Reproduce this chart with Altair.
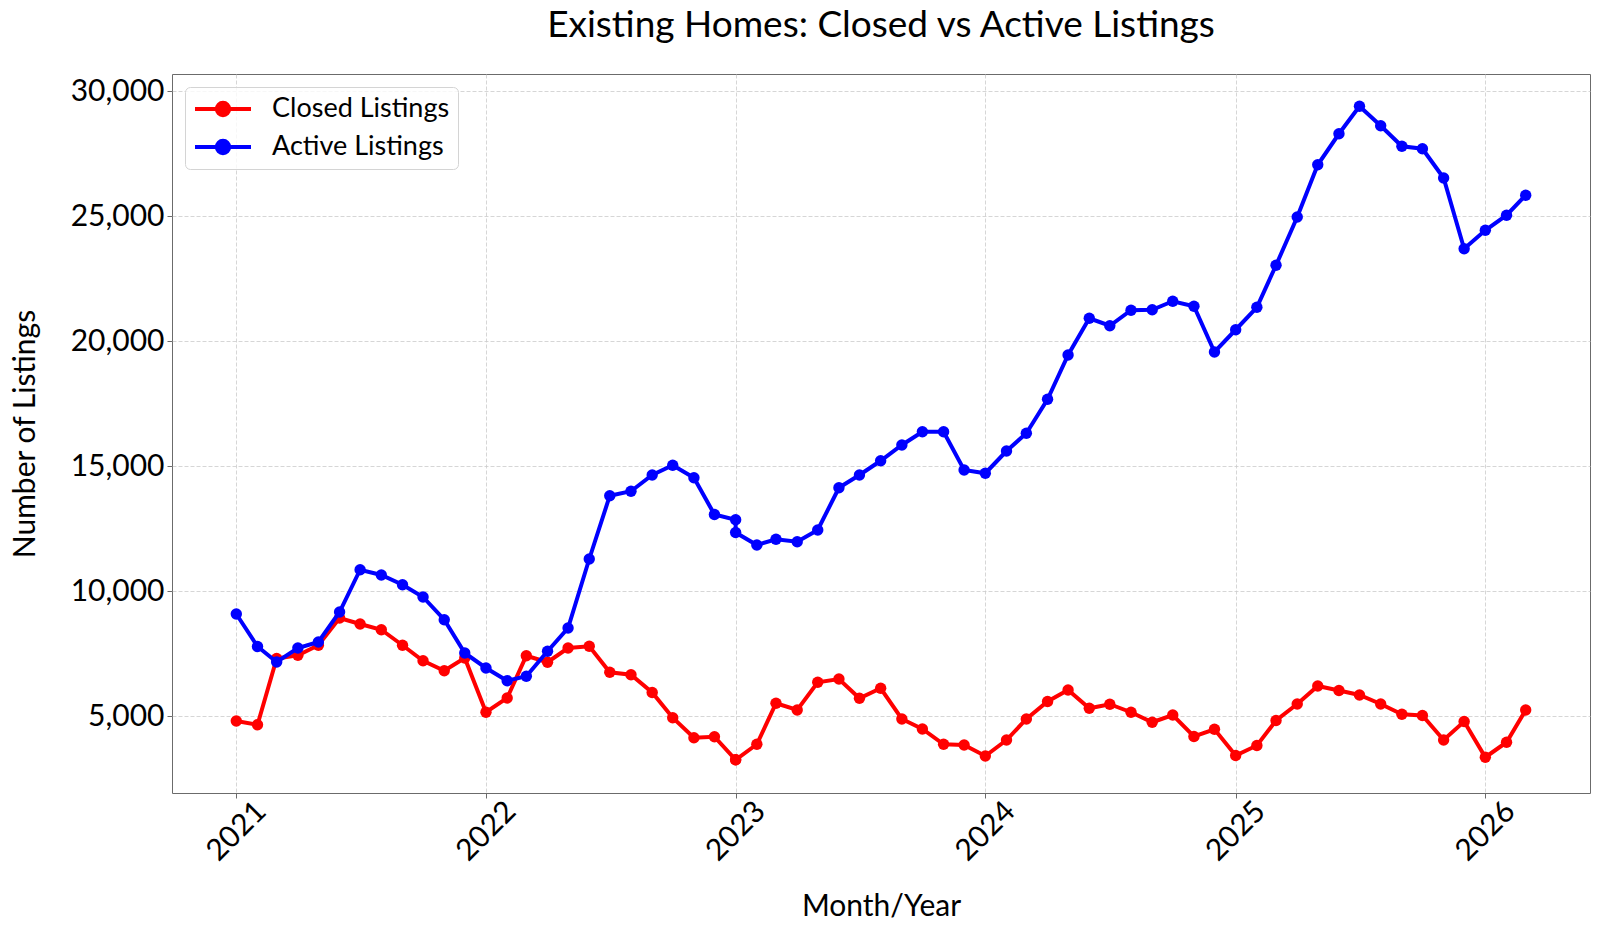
import altair as alt
import pandas as pd

# Monthly observations (January 2023 was reported twice)
months = [
    "2021-01-01", "2021-02-01", "2021-03-01", "2021-04-01", "2021-05-01", "2021-06-01",
    "2021-07-01", "2021-08-01", "2021-09-01", "2021-10-01", "2021-11-01", "2021-12-01",
    "2022-01-01", "2022-02-01", "2022-03-01", "2022-04-01", "2022-05-01", "2022-06-01",
    "2022-07-01", "2022-08-01", "2022-09-01", "2022-10-01", "2022-11-01", "2022-12-01",
    "2023-01-01", "2023-01-01", "2023-02-01", "2023-03-01", "2023-04-01", "2023-05-01",
    "2023-06-01", "2023-07-01", "2023-08-01", "2023-09-01", "2023-10-01", "2023-11-01",
    "2023-12-01", "2024-01-01", "2024-02-01", "2024-03-01", "2024-04-01", "2024-05-01",
    "2024-06-01", "2024-07-01", "2024-08-01", "2024-09-01", "2024-10-01", "2024-11-01",
    "2024-12-01", "2025-01-01", "2025-02-01", "2025-03-01", "2025-04-01", "2025-05-01",
    "2025-06-01", "2025-07-01", "2025-08-01", "2025-09-01", "2025-10-01", "2025-11-01",
    "2025-12-01", "2026-01-01", "2026-02-01", "2026-03-01",
]

closed_listings = [
    4800, 4650, 7300, 7430, 7830, 8920, 8680, 8450, 7830, 7210, 6810, 7320,
    5150, 5720, 7410, 7150, 7720, 7790, 6750, 6650, 5940, 4930, 4130, 4170,
    3250, 3250, 3870, 5510, 5240, 6350, 6480, 5710, 6110, 4880, 4480, 3870,
    3840, 3400, 4040, 4880, 5580, 6040, 5310, 5470, 5150, 4750, 5040, 4180,
    4470, 3420, 3820, 4820, 5480, 6200, 6020, 5840, 5480, 5070, 5020, 4040,
    4780, 3350, 3950, 5240,
]

active_listings = [
    9080, 7780, 7160, 7720, 7960, 9160, 10850, 10640, 10250, 9760, 8850, 7520,
    6920, 6410, 6590, 7590, 8520, 11280, 13810, 13990, 14640, 15030, 14530, 13060,
    12850, 12340, 11840, 12070, 11970, 12440, 14130, 14640, 15210, 15840, 16370, 16370,
    14840, 14710, 15600, 16310, 17670, 19440, 20910, 20610, 21230, 21250, 21590, 21390,
    19560, 20450, 21350, 23030, 24960, 27050, 28290, 29390, 28610, 27790, 27690, 26520,
    23690, 24430, 25030, 25830,
]

series_names = ["Closed Listings", "Active Listings"]
series_colors = ["#ff0000", "#0000ff"]

year_ticks = ["2021-01-01", "2022-01-01", "2023-01-01", "2024-01-01", "2025-01-01", "2026-01-01"]
y_ticks = [5000, 10000, 15000, 20000, 25000, 30000]

FONT = "Lato"


def ms(s):
    return int(pd.Timestamp(s, tz="UTC").value // 10**6)


rows = []
for i, m in enumerate(months):
    rows.append({"month": m, "seq": i, "series": series_names[0], "count": closed_listings[i]})
for i, m in enumerate(months):
    rows.append({"month": m, "seq": i, "series": series_names[1], "count": active_listings[i]})
df = pd.DataFrame(rows)

# legend glyph: a short line with a dot in the middle
legend_glyph = "M-1,0L1,0M-0.22,0A0.22,0.22,0,1,0,0.22,0A0.22,0.22,0,1,0,-0.22,0Z"

x_enc = alt.X(
    "month:T",
    scale=alt.Scale(type="utc", domain=[ms("2020-09-29"), ms("2026-06-03")], nice=False),
    axis=alt.Axis(
        title="Month/Year",
        values=[ms(t) for t in year_ticks],
        labelExpr="utcFormat(datum.value, '%Y')",
        labelAngle=315,
        labelAlign="center",
        labelBaseline="middle",
        labelPadding=33,
        tickSize=5,
        titleX=709,
        titleY=113,
        titleBaseline="middle",
        titleAlign="center",
    ),
)
y_enc = alt.Y(
    "count:Q",
    scale=alt.Scale(domain=[1920, 30680], nice=False, zero=False),
    axis=alt.Axis(
        title="Number of Listings",
        values=y_ticks,
        labelExpr="format(datum.value, ',.0f')",
        tickSize=5,
        labelPadding=3,
        titleX=-147,
        titleY=359.5,
        titleAngle=270,
        titleAlign="center",
        titleBaseline="middle",
    ),
)
color_enc = alt.Color(
    "series:N",
    scale=alt.Scale(domain=series_names, range=series_colors),
    legend=alt.Legend(
        title=None,
        orient="top-left",
        symbolType=legend_glyph,
        symbolSize=3136,
        symbolStrokeWidth=4,
        symbolOpacity=1,
        labelLimit=400,
    ),
)

layers = []
for name in series_names:
    base = alt.Chart(df).transform_filter(alt.datum.series == name)
    layers.append(
        base.mark_line(strokeWidth=4).encode(
            x=x_enc, y=y_enc, color=color_enc, order=alt.Order("seq:Q")
        )
    )
    layers.append(
        base.mark_circle(size=130, opacity=1).encode(x=x_enc, y=y_enc, color=color_enc)
    )

chart = (
    alt.layer(*layers)
    .properties(
        width=1418,
        height=719,
        autosize="none",
        padding={"left": 172, "top": 74, "right": 10, "bottom": 140},
        title=alt.TitleParams(
            "Existing Homes: Closed vs Active Listings",
            fontSize=37,
            font=FONT,
            fontWeight="normal",
            color="black",
            anchor="middle",
            baseline="alphabetic",
            offset=0,
        ),
    )
    .configure_view(stroke="#6b6b6b", strokeWidth=1)
    .configure_axis(
        labelFont=FONT,
        labelFontSize=30,
        labelColor="black",
        titleFont=FONT,
        titleFontSize=30,
        titleFontWeight="normal",
        titleColor="black",
        tickColor="#6b6b6b",
        domain=False,
        grid=True,
        gridColor="#cccccc",
        gridDash=[4, 2],
        gridWidth=0.8,
    )
    .configure_legend(
        labelFont=FONT,
        labelFontSize=27,
        labelColor="black",
        labelOffset=19,
        symbolOffset=0,
        clipHeight=28,
        rowPadding=10,
        padding=8,
        offset=13,
        fillColor="rgba(255,255,255,0.8)",
        strokeColor="#d4d4d4",
        cornerRadius=5,
    )
)

chart.save("out.html", embed_options={"renderer": "svg", "actions": False})
